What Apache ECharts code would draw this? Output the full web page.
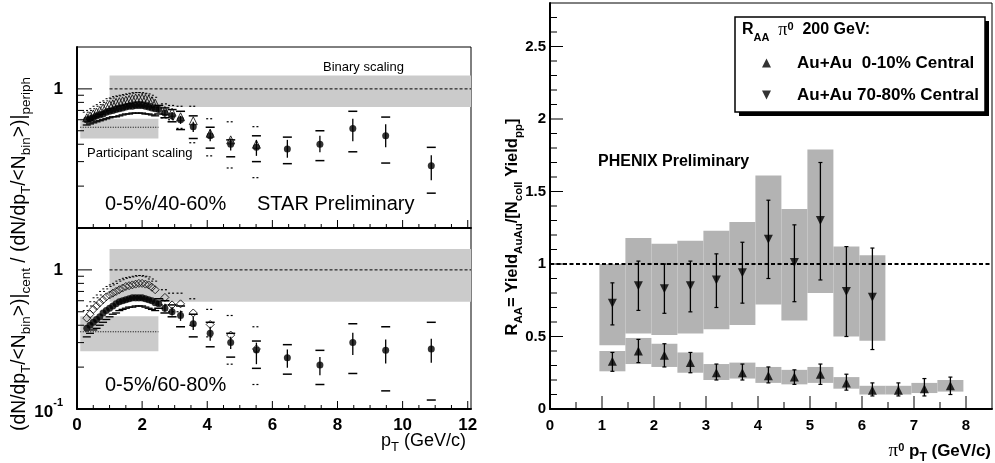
<!DOCTYPE html>
<html><head><meta charset="utf-8">
<script src="https://cdn.jsdelivr.net/npm/echarts@6/dist/echarts.min.js"></script>
<style>html,body{margin:0;padding:0;background:#fff}#c{width:995px;height:463px}</style>
</head><body><div id="c"></div>
<script>
// ================= DATA =================
// ---- STAR (left panels), dense low-pT region ----
const lowPt = [0.3,0.4,0.5,0.6,0.7,0.8,0.9,1.0,1.1,1.2,1.3,1.4,1.5,1.6,1.7,1.8,1.9,2.0,2.1,2.2,2.3,2.4];
const topLowFilled    = [0.60,0.61,0.62,0.64,0.65,0.66,0.68,0.69,0.70,0.71,0.72,0.73,0.74,0.75,0.75,0.76,0.76,0.76,0.75,0.74,0.73,0.72];
const topLowFilledSys = [0.55,0.56,0.57,0.58,0.59,0.60,0.61,0.62,0.63,0.63,0.64,0.65,0.66,0.66,0.67,0.67,0.67,0.67,0.66,0.66,0.65,0.64];
const topLowOpen      = [0.62,0.64,0.66,0.68,0.70,0.73,0.75,0.77,0.78,0.80,0.81,0.82,0.83,0.84,0.85,0.86,0.86,0.86,0.85,0.84,0.82,0.79];
const topLowOpenSys   = [0.68,0.70,0.72,0.75,0.77,0.80,0.82,0.85,0.86,0.88,0.89,0.90,0.91,0.92,0.93,0.94,0.94,0.94,0.93,0.92,0.90,0.87];
const botLowFilled    = [0.38,0.40,0.42,0.44,0.46,0.49,0.51,0.53,0.55,0.57,0.59,0.60,0.61,0.62,0.63,0.63,0.63,0.63,0.62,0.61,0.60,0.58];
const botLowFilledSys = [0.33,0.35,0.37,0.38,0.40,0.42,0.44,0.46,0.48,0.49,0.51,0.52,0.53,0.54,0.54,0.55,0.55,0.55,0.54,0.53,0.52,0.51];
const botLowOpen      = [0.45,0.48,0.52,0.55,0.58,0.61,0.64,0.66,0.68,0.70,0.72,0.74,0.76,0.77,0.78,0.79,0.80,0.80,0.79,0.78,0.75,0.72];
const botLowOpenSys   = [0.51,0.55,0.59,0.63,0.66,0.70,0.73,0.76,0.78,0.80,0.83,0.85,0.87,0.88,0.89,0.90,0.91,0.91,0.90,0.89,0.86,0.83];

// ---- STAR, higher-pT filled points ----
const hiPt = [2.51,2.7,2.92,3.18,3.57,4.09,4.72,5.51,6.46,7.46,8.47,9.48,10.88];
const topHiVal    = [0.71,0.67,0.64,0.60,0.535,0.46,0.40,0.38,0.37,0.40,0.52,0.46,0.28];
const topHiStatLo = [0.68,0.63,0.60,0.56,0.49,0.42,0.36,0.33,0.32,0.35,0.42,0.38,0.22];
const topHiStatHi = [0.74,0.71,0.68,0.64,0.58,0.51,0.44,0.43,0.43,0.46,0.61,0.556,0.334];
const topHiSysLo  = [0.66,0.62,0.58,0.51,0.44,0.375,0.325,0.30,0.29,0.305,0.353,0.293,0.178];
const topHiSysHi  = [0.76,0.73,0.71,0.69,0.64,0.53,0.43,0.46,0.45,0.50,0.69,0.627,0.38];
const botHiVal    = [0.57,0.53,0.50,0.47,0.41,0.35,0.30,0.266,0.234,0.207,0.30,0.264,0.27];
const botHiStatLo = [0.55,0.50,0.47,0.43,0.37,0.31,0.27,0.21,0.198,0.175,0.244,0.212,0.215];
const botHiStatHi = [0.60,0.57,0.54,0.51,0.46,0.39,0.33,0.30,0.268,0.236,0.353,0.316,0.32];
const botHiSysLo  = [0.53,0.49,0.46,0.39,0.33,0.28,0.236,0.196,0.178,0.15,0.18,0.135,0.116];
const botHiSysHi  = [0.62,0.60,0.56,0.55,0.48,0.42,0.35,0.308,0.29,0.264,0.41,0.39,0.42];

// ---- STAR, higher-pT open points ----
const openPt = [2.7,2.92,3.18,3.57,4.09,4.72,5.51];
const topOpenVal   = [0.70,0.68,0.63,0.59,0.48,0.43,0.40];
const topOpenSysLo = [0.62,0.60,0.52,0.41,0.33,0.27,0.23];
const topOpenSysHi = [0.78,0.76,0.75,0.75,0.61,0.58,0.535];
const botOpenVal   = [0.634,0.56,0.57,0.49,0.405,0.34,0.27];
const botOpenSysLo = [0.56,0.50,0.50,0.40,0.33,0.21,0.15];
const botOpenSysHi = [0.72,0.68,0.68,0.62,0.52,0.47,0.39];

// ---- STAR scaling bands ----
const binaryX = [1, 12.1];
const topBinaryBand = [0.74, 1.25];
const botBinaryBand = [0.59, 1.41];
const binaryLevel = 1;
const partX = [0.1, 2.5];
const topPartBand = [0.44, 0.61];
const topPartLevel = 0.53;
const botPartBand = [0.26, 0.464];
const botPartLevel = 0.359;

// ---- PHENIX (right panel) ----
const rPt70     = [1.2,1.7,2.2,2.7,3.2,3.7,4.2,4.7,5.2,5.7,6.2];
const r70       = [0.73,0.85,0.83,0.85,0.89,0.94,1.17,1.01,1.30,0.81,0.77];
const r70StatLo = [0.58,0.68,0.66,0.67,0.70,0.73,0.90,0.74,0.89,0.50,0.41];
const r70StatHi = [0.87,1.02,1.00,1.02,1.07,1.15,1.44,1.27,1.70,1.12,1.11];
const r70SysLo  = [0.44,0.52,0.51,0.52,0.55,0.58,0.72,0.61,0.80,0.50,0.47];
const r70SysHi  = [1.00,1.18,1.14,1.16,1.23,1.29,1.61,1.38,1.79,1.12,1.06];
const rPt010     = [1.2,1.7,2.2,2.7,3.2,3.7,4.2,4.7,5.2,5.7,6.2,6.7,7.2,7.7];
const r010       = [0.33,0.40,0.37,0.32,0.25,0.25,0.23,0.22,0.24,0.18,0.13,0.13,0.14,0.16];
const r010StatLo = [0.26,0.32,0.29,0.25,0.20,0.20,0.18,0.17,0.17,0.13,0.09,0.09,0.09,0.10];
const r010StatHi = [0.39,0.48,0.45,0.39,0.31,0.31,0.29,0.27,0.31,0.24,0.18,0.18,0.21,0.22];
const r010SysLo  = [0.26,0.31,0.29,0.25,0.20,0.21,0.18,0.17,0.18,0.14,0.10,0.10,0.11,0.12];
const r010SysHi  = [0.40,0.49,0.45,0.39,0.31,0.32,0.29,0.27,0.29,0.22,0.16,0.16,0.18,0.20];
const rBinHalf = 0.25;
const rRefLevel = 1;
const rRefX = [0, 8.5];

// ---- ticks ----
const leftXMajor = [0,2,4,6,8,10,12];
const leftXMinor = [0.5,1,1.5,2.5,3,3.5,4.5,5,5.5,6.5,7,7.5,8.5,9,9.5,10.5,11,11.5];
const leftYMajor = [1];
const leftYMinor = [0.2,0.3,0.4,0.5,0.6,0.7,0.8,0.9];
const rightXMajor = [0,1,2,3,4,5,6,7,8];
const rightXMinor = [0.5,1.5,2.5,3.5,4.5,5.5,6.5,7.5];
const rightYMajor = [0,0.5,1,1.5,2,2.5];
const rightYMinor = [0.1,0.2,0.3,0.4,0.6,0.7,0.8,0.9,1.1,1.2,1.3,1.4,1.6,1.7,1.8,1.9,2.1,2.2,2.3,2.4,2.6,2.7];

const legendNames = ['Au+Au  0-10% Central', 'Au+Au 70-80% Central'];

// ================= RENDER =================
const K = '#000';
const FONT = "'Liberation Sans', Arial, Helvetica, sans-serif";
const SERIF = "'Liberation Serif', 'DejaVu Serif', serif";
const zip = (a, b) => a.map((v, i) => [v, b[i]]);
const zip3 = (a, b, c) => a.map((v, i) => [v, b[i], c[i]]);

function vLine(lw, dash, cap) {
  return (p, api) => {
    const x = api.value(0);
    const a = api.coord([x, api.value(1)]), b = api.coord([x, api.value(2)]);
    const ch = [{type:'line', shape:{x1:a[0],y1:a[1],x2:b[0],y2:b[1]}, style:{stroke:K, lineWidth:lw, lineDash:dash}}];
    if (cap) for (const q of [a, b]) ch.push({type:'line', shape:{x1:q[0]-cap/2,y1:q[1],x2:q[0]+cap/2,y2:q[1]}, style:{stroke:K, lineWidth:1.2}});
    return {type:'group', children:ch};
  };
}
function hCap(w, lw, dash) {
  return (p, api) => {
    const c = api.coord([api.value(0), api.value(1)]);
    return {type:'line', shape:{x1:c[0]-w/2,y1:c[1],x2:c[0]+w/2,y2:c[1]}, style:{stroke:K, lineWidth:lw, lineDash:dash}};
  };
}
function rectItem(fill) {
  return (p, api) => {
    const a = api.coord([api.value(0), api.value(3)]);
    const b = api.coord([api.value(1), api.value(2)]);
    return {type:'rect', shape:{x:a[0], y:a[1], width:b[0]-a[0], height:b[1]-a[1]}, style:{fill}};
  };
}
function xTick(yBase, len) {
  return (p, api) => { const c = api.coord([api.value(0), yBase]);
    return {type:'line', shape:{x1:c[0],y1:c[1],x2:c[0],y2:c[1]-len}, style:{stroke:K, lineWidth:1}}; };
}
function yTick(xBase, len) {
  return (p, api) => { const c = api.coord([xBase, api.value(0)]);
    return {type:'line', shape:{x1:c[0],y1:c[1],x2:c[0]+len,y2:c[1]}, style:{stroke:K, lineWidth:1}}; };
}
function capsPairs(x, lo, hi) { const out = []; x.forEach((v,i)=>{ out.push([v, lo[i]]); out.push([v, hi[i]]); }); return out; }

const series = [];
function custom(gi, data, renderItem, z, encode) {
  series.push({type:'custom', xAxisIndex:gi, yAxisIndex:gi, data, renderItem, z, silent:true, clip:false,
    encode: encode || {x:0, y:1}});
}
function refLine(gi, xs, level, width, dash) {
  series.push({type:'line', xAxisIndex:gi, yAxisIndex:gi, data:xs.map(x=>[x, level]), symbol:'none', silent:true, z:3,
    lineStyle:{color:K, width, type:dash}});
}

// --- left panels ---
const panels = [
  {gi:0, binary:topBinaryBand, part:topPartBand, partLevel:topPartLevel,
   lowF:topLowFilled, lowFS:topLowFilledSys, lowO:topLowOpen, lowOS:topLowOpenSys, openSym:'triangle',
   hv:topHiVal, hsl:topHiStatLo, hsh:topHiStatHi, hyl:topHiSysLo, hyh:topHiSysHi,
   ov:topOpenVal, oyl:topOpenSysLo, oyh:topOpenSysHi},
  {gi:1, binary:botBinaryBand, part:botPartBand, partLevel:botPartLevel,
   lowF:botLowFilled, lowFS:botLowFilledSys, lowO:botLowOpen, lowOS:botLowOpenSys, openSym:'diamond',
   hv:botHiVal, hsl:botHiStatLo, hsh:botHiStatHi, hyl:botHiSysLo, hyh:botHiSysHi,
   ov:botOpenVal, oyl:botOpenSysLo, oyh:botOpenSysHi}
];
panels.forEach(P => {
  const g = P.gi;
  custom(g, [[binaryX[0], binaryX[1], P.binary[0], P.binary[1]], [partX[0], partX[1], P.part[0], P.part[1]]], rectItem('#cbcbcb'), 1);
  refLine(g, binaryX, binaryLevel, 1, [3,2]);
  refLine(g, partX, P.partLevel, 1, [1,1.5]);
  custom(g, zip(lowPt, P.lowFS), hCap(8, 1.3, null), 4);
  custom(g, zip(lowPt, P.lowOS), hCap(8, 1, [2,2]), 4);
  custom(g, zip3(hiPt, P.hsl, P.hsh), vLine(1.3, null, 0), 4);
  custom(g, capsPairs(hiPt, P.hyl, P.hyh), hCap(9, 1.5, null), 4);
  custom(g, capsPairs(openPt, P.oyl, P.oyh), hCap(8, 1.2, [2,2]), 4);
  series.push({type:'scatter', xAxisIndex:g, yAxisIndex:g, data:zip(lowPt, P.lowO), symbol:P.openSym, symbolSize:8, silent:true, z:5,
    itemStyle:{color:'rgba(255,255,255,0)', borderColor:K, borderWidth:1}});
  series.push({type:'scatter', xAxisIndex:g, yAxisIndex:g, data:zip(openPt, P.ov), symbol:P.openSym, symbolSize:8, silent:true, z:5,
    itemStyle:{color:'rgba(255,255,255,0)', borderColor:K, borderWidth:1}});
  series.push({type:'scatter', xAxisIndex:g, yAxisIndex:g, data:zip(lowPt, P.lowF), symbol:'circle', symbolSize:7, silent:true, z:6,
    itemStyle:{color:K}});
  series.push({type:'scatter', xAxisIndex:g, yAxisIndex:g, data:zip(hiPt, P.hv), symbol:'circle', symbolSize:7, silent:true, z:6,
    itemStyle:{color:K}});
  custom(g, leftXMajor.map(v=>[v]), xTick(0.1, 8), 7, {x:0});
  custom(g, leftXMinor.map(v=>[v]), xTick(0.1, 4), 7, {x:0});
  custom(g, leftYMajor.map(v=>[v]), yTick(0, 15), 7, {y:0});
  custom(g, leftYMinor.map(v=>[v]), yTick(0, 7), 7, {y:0});
});

// --- right panel ---
custom(2, rPt70.map((x,i)=>[x-rBinHalf, x+rBinHalf, r70SysLo[i], r70SysHi[i]]), rectItem('#b3b3b3'), 1);
custom(2, rPt010.map((x,i)=>[x-rBinHalf, x+rBinHalf, r010SysLo[i], r010SysHi[i]]), rectItem('#b3b3b3'), 1);
refLine(2, rRefX, rRefLevel, 2, [4,2.5]);
custom(2, zip3(rPt70, r70StatLo, r70StatHi), vLine(1.3, null, 4), 4);
custom(2, zip3(rPt010, r010StatLo, r010StatHi), vLine(1.3, null, 4), 4);
series.push({type:'scatter', name:legendNames[0], xAxisIndex:2, yAxisIndex:2, data:zip(rPt010, r010), symbol:'triangle', symbolSize:9, z:6, silent:true, itemStyle:{color:K}});
series.push({type:'scatter', name:legendNames[1], xAxisIndex:2, yAxisIndex:2, data:zip(rPt70, r70), symbol:'triangle', symbolRotate:180, symbolSize:9, z:6, silent:true, itemStyle:{color:K}});
custom(2, rightXMajor.map(v=>[v]), xTick(0, 13), 7, {x:0});
custom(2, rightXMinor.map(v=>[v]), xTick(0, 7), 7, {x:0});
custom(2, rightYMajor.map(v=>[v]), yTick(0, 13), 7, {y:0});
custom(2, rightYMinor.map(v=>[v]), yTick(0, 7), 7, {y:0});

// --- axes ---
const boldLbl = (size, margin) => ({color:K, fontFamily:FONT, fontWeight:'bold', fontSize:size, margin, showMaxLabel:false});
const leftX = (gi, show) => ({type:'value', gridIndex:gi, min:0, max:12.1, interval:2,
  axisLine:{show:true, lineStyle:{color:K, width:2}}, axisTick:{show:false}, splitLine:{show:false},
  axisLabel: Object.assign(boldLbl(17, 8), {show})});
const leftY = (gi, withTenth) => ({type:'log', gridIndex:gi, min:0.1, max:2, logBase:10,
  axisLine:{show:true, onZero:false, lineStyle:{color:K, width:2}}, axisTick:{show:false}, splitLine:{show:false},
  axisLabel:{color:K, fontFamily:FONT, fontWeight:'bold', fontSize:17, margin:14, showMaxLabel:false,
    formatter: v => Math.abs(v-1) < 1e-6 ? '1' : (withTenth && Math.abs(v-0.1) < 1e-6 ? '{b|10}{s|-1}' : ''),
    rich:{b:{fontFamily:FONT, fontWeight:'bold', fontSize:17, lineHeight:24, verticalAlign:'bottom'},
          s:{fontFamily:FONT, fontWeight:'bold', fontSize:11, lineHeight:14, verticalAlign:'top'}}}});

const sub = (size, bold) => ({fontFamily:FONT, fontWeight:bold?'bold':'normal', fontSize:size, lineHeight:16, verticalAlign:'bottom', color:K});
const sup = (size, bold, fam) => ({fontFamily:fam||FONT, fontWeight:bold?'bold':'normal', fontSize:size, lineHeight:20, verticalAlign:'top', padding:[4,0,0,0], color:K});
const main = (size, bold, fam) => ({fontFamily:fam||FONT, fontWeight:bold?'bold':'normal', fontSize:size, lineHeight:26, verticalAlign:'middle', color:K});

const option = {
  animation:false,
  backgroundColor:'#fff',
  grid:[
    {left:77, top:47, width:394, height:181, show:true, borderColor:K, borderWidth:1, backgroundColor:'transparent'},
    {left:77, top:228, width:394, height:181, show:true, borderColor:K, borderWidth:1, backgroundColor:'transparent'},
    {left:550, top:3, width:442, height:406, show:true, borderColor:K, borderWidth:1, backgroundColor:'transparent'}
  ],
  xAxis:[ leftX(0,false), leftX(1,true),
    {type:'value', gridIndex:2, min:0, max:8.5, interval:1,
     axisLine:{show:true, lineStyle:{color:K, width:2}}, axisTick:{show:false}, splitLine:{show:false},
     axisLabel: boldLbl(15, 9)} ],
  yAxis:[ leftY(0,false), leftY(1,true),
    {type:'value', gridIndex:2, min:0, max:2.8, interval:0.5,
     axisLine:{show:true, lineStyle:{color:K, width:2}}, axisTick:{show:false}, splitLine:{show:false},
     axisLabel: boldLbl(15, 4)} ],
  legend:{show:true, z:30, zlevel:0, orient:'vertical', left:762, top:53, padding:0, itemGap:12, itemWidth:9, itemHeight:9,
    selectedMode:false,
    data:[{name:legendNames[0], icon:'triangle'}, {name:legendNames[1], icon:'path://M0,0L10,0L5,10Z'}],
    textStyle:{color:K, fontFamily:FONT, fontWeight:'bold', fontSize:17, lineHeight:20, padding:[0,0,0,21]}},
  graphic:[
    // legend box
    {type:'rect', shape:{x:739, y:21, width:250, height:95}, style:{fill:K}, z:8},
    {type:'rect', shape:{x:735, y:17, width:250, height:95}, style:{fill:'#fff', stroke:K, lineWidth:1.5}, z:9},
    {type:'text', x:742, y:30, z:12, style:{text:'{m|R}{s|AA}{m|  }{g|π}{p|0}{m|  200 GeV:}', verticalAlign:'middle',
      rich:{m:main(16,true), s:sub(11,true), g:main(18,false,SERIF), p:sup(11,true)}}},
    // left texts
    {type:'text', x:323, y:67, z:12, style:{text:'Binary scaling', font:'13px '+FONT, fill:K, verticalAlign:'middle'}},
    {type:'text', x:87, y:153, z:12, style:{text:'Participant scaling', font:'13px '+FONT, fill:K, verticalAlign:'middle'}},
    {type:'text', x:105, y:204, z:12, style:{text:'0-5%/40-60%', font:'20px '+FONT, fill:K, verticalAlign:'middle'}},
    {type:'text', x:257, y:204, z:12, style:{text:'STAR Preliminary', font:'20px '+FONT, fill:K, verticalAlign:'middle'}},
    {type:'text', x:105, y:385, z:12, style:{text:'0-5%/60-80%', font:'20px '+FONT, fill:K, verticalAlign:'middle'}},
    {type:'text', x:598, y:162, z:12, style:{text:'PHENIX Preliminary', font:'bold 16px '+FONT, fill:K, verticalAlign:'middle'}},
    // axis titles
    {type:'text', x:466, y:441, z:12, style:{text:'{m|p}{s|T}{m| (GeV/c)}', align:'right', verticalAlign:'middle',
      rich:{m:main(18,false), s:sub(13,false)}}},
    {type:'text', x:991, y:451, z:12, style:{text:'{g|π}{p|0}{m| p}{s|T}{m| (GeV/c)}', align:'right', verticalAlign:'middle',
      rich:{m:main(17,true), s:sub(12,true), g:main(19,false,SERIF), p:sup(11,true)}}},
    {type:'text', x:20, y:254, rotation:Math.PI/2, z:12, style:{
      text:'{m|(dN/dp}{s|T}{m|/<N}{s|bin}{m|>)|}{s|cent}{m| / (dN/dp}{s|T}{m|/<N}{s|bin}{m|>)|}{s|periph}',
      align:'center', verticalAlign:'middle', rich:{m:main(19.3,false), s:sub(13.5,false)}}},
    {type:'text', x:512, y:227, rotation:Math.PI/2, z:12, style:{
      text:'{m|R}{s|AA}{m|= Yield}{s|AuAu}{m|/[N}{s|coll}{m| Yield}{s|pp}{m|]}',
      align:'center', verticalAlign:'middle', rich:{m:main(16.5,true), s:sub(11.5,true)}}}
  ],
  series
};
const chart = echarts.init(document.getElementById('c'), null, {renderer:'canvas'});
chart.setOption(option);
</script></body></html>
